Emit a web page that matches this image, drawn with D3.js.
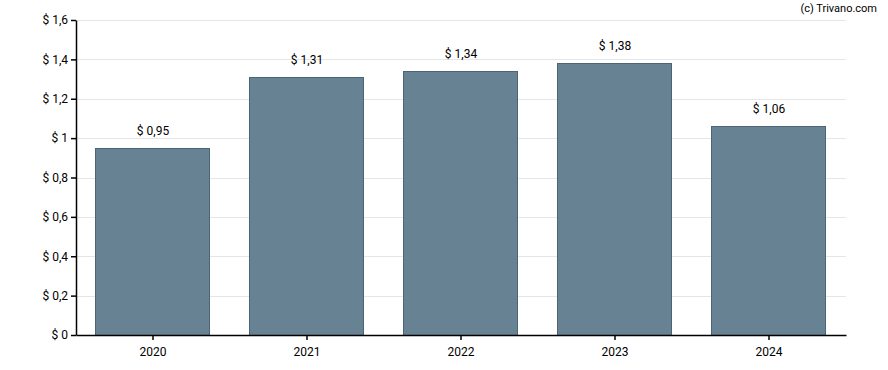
<!DOCTYPE html>
<html>
<head>
<meta charset="utf-8">
<script src="https://cdn.jsdelivr.net/npm/d3@7"></script>
<style>
  body { margin: 0; background: #fff; }
  text { font-family: Roboto, "Liberation Sans", Arial, sans-serif; }
</style>
</head>
<body>
<div class="chart"></div>
<script>
var width = 888;
var height = 370;
var margin = { top: 20, right: 42, bottom: 35, left: 76 };

var years = ["2020", "2021", "2022", "2023", "2024"];
var values = [0.95, 1.31, 1.34, 1.38, 1.06];
var yTicks = [0, 0.2, 0.4, 0.6, 0.8, 1, 1.2, 1.4, 1.6];

var fmt = function(v) { return "$ " + String(v).replace(".", ","); };
var fmt2 = function(v) { return "$ " + v.toFixed(2).replace(".", ","); };

var svg = d3.select("div.chart").append("svg")
    .attr("width", width)
    .attr("height", height);

var x = d3.scaleBand()
    .domain(years)
    .range([margin.left, width - margin.right])
    .paddingInner(0.26)
    .paddingOuter(0.13);

var y = d3.scaleLinear()
    .domain([0, 1.6])
    .range([height - margin.bottom, margin.top]);

// grid
svg.append("g").selectAll("line").data(yTicks).enter()
    .append("line")
    .attr("x1", margin.left)
    .attr("x2", width - margin.right)
    .attr("y1", function(d) { return Math.round(y(d)) + 0.5 })
    .attr("y2", function(d) { return Math.round(y(d)) + 0.5 })
    .attr("stroke", "#e6e6e6")
    .attr("stroke-width", 1);

// bars
svg.append("g").selectAll("rect").data(values).enter()
    .append("rect")
    .attr("x", function(d, i) { return Math.round(x(years[i])) - 0.5 })
    .attr("y", function(d) { return Math.round(y(d)) + 0.5 })
    .attr("width", Math.round(x.bandwidth()))
    .attr("height", function(d) { return y(0) - Math.round(y(d)) })
    .attr("fill", "#678293")
    .attr("stroke", "#4b6577")
    .attr("stroke-width", 1);

// value labels
svg.append("g").selectAll("text").data(values).enter()
    .append("text")
    .attr("x", function(d, i) { return x(years[i]) + x.bandwidth() / 2 })
    .attr("y", function(d) { return y(d) - 13 })
    .attr("text-anchor", "middle")
    .attr("font-size", 12)
    .attr("fill", "#000")
    .text(fmt2);

// y axis
var yAxis = svg.append("g")
    .attr("transform", "translate(" + margin.left + ",0)")
    .call(d3.axisLeft(y).tickValues(yTicks).tickSize(5).tickSizeOuter(0).tickFormat(fmt));
yAxis.select(".domain").attr("stroke", "#000").attr("stroke-width", 1.5);
yAxis.selectAll(".tick line").attr("stroke", "#000").attr("stroke-width", 1.5);
yAxis.selectAll("text").attr("font-size", 12).attr("fill", "#000")
    .style("font-family", "Roboto, 'Liberation Sans', Arial, sans-serif");

// x axis
var xAxis = svg.append("g")
    .attr("transform", "translate(0," + y(0) + ")")
    .call(d3.axisBottom(x).tickSize(5).tickSizeOuter(0));
xAxis.select(".domain").attr("stroke", "#000").attr("stroke-width", 1.5);
xAxis.selectAll(".tick line").attr("stroke", "#000").attr("stroke-width", 1.5);
xAxis.selectAll("text").attr("font-size", 12).attr("fill", "#000").attr("dy", "1.1em")
    .style("font-family", "Roboto, 'Liberation Sans', Arial, sans-serif");

svg.append("text")
    .attr("x", 877)
    .attr("y", 12)
    .attr("text-anchor", "end")
    .attr("font-size", 11)
    .attr("fill", "#000")
    .text("(c) Trivano.com");
</script>
</body>
</html>
